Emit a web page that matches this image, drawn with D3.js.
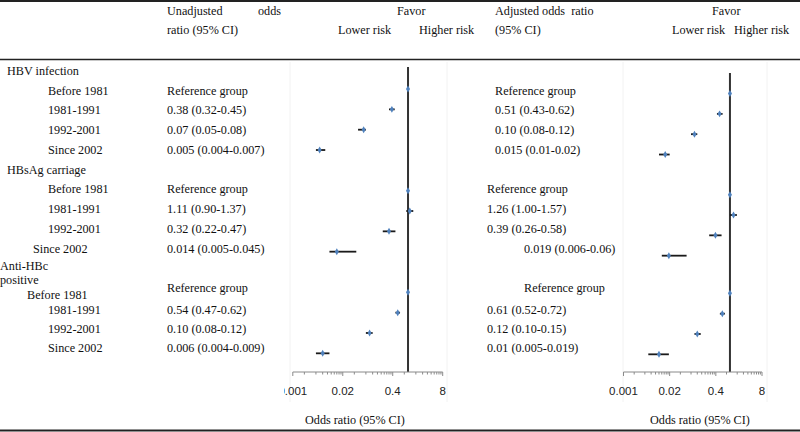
<!DOCTYPE html>
<html><head><meta charset="utf-8">
<script src="https://cdn.jsdelivr.net/npm/d3@7"></script>
<style>
body{margin:0;background:#fff}
svg{display:block}
text{font-family:"Liberation Serif","Times New Roman",serif;font-size:12.2px;fill:#111}
text.tk{font-family:"Liberation Sans",Arial,sans-serif;font-size:11.5px;fill:#222}
</style>
</head><body><svg id="c" width="800" height="432"></svg>
<script>
// ---------------- data ----------------
const groups = ["HBV infection", "HBsAg carriage", "Anti-HBc positive"];
const periods = ["Before 1981", "1981-1991", "1992-2001", "Since 2002"];
const unadjOR = [1, 0.38, 0.07, 0.005, 1, 1.11, 0.32, 0.014, 1, 0.54, 0.10, 0.006];
const unadjLo = [null, 0.32, 0.05, 0.004, null, 0.90, 0.22, 0.009, null, 0.47, 0.08, 0.004];
const unadjHi = [null, 0.45, 0.08, 0.007, null, 1.37, 0.47, 0.045, null, 0.62, 0.12, 0.009];
const unadjText = ["Reference group", "0.38 (0.32-0.45)", "0.07 (0.05-0.08)", "0.005 (0.004-0.007)",
  "Reference group", "1.11 (0.90-1.37)", "0.32 (0.22-0.47)", "0.014 (0.005-0.045)",
  "Reference group", "0.54 (0.47-0.62)", "0.10 (0.08-0.12)", "0.006 (0.004-0.009)"];
const adjOR = [1, 0.51, 0.10, 0.015, 1, 1.26, 0.39, 0.019, 1, 0.61, 0.12, 0.01];
const adjLo = [null, 0.43, 0.08, 0.01, null, 1.00, 0.26, 0.012, null, 0.52, 0.10, 0.005];
const adjHi = [null, 0.62, 0.12, 0.02, null, 1.57, 0.58, 0.06, null, 0.72, 0.15, 0.019];
const adjText = ["Reference group", "0.51 (0.43-0.62)", "0.10 (0.08-0.12)", "0.015 (0.01-0.02)",
  "Reference group", "1.26 (1.00-1.57)", "0.39 (0.26-0.58)", "0.019 (0.006-0.06)",
  "Reference group", "0.61 (0.52-0.72)", "0.12 (0.10-0.15)", "0.01 (0.005-0.019)"];
const axisTicks = [0.001, 0.02, 0.4, 8];
const axisTickLabels = ["0.001", "0.02", "0.4", "8"];
const axisTitle = "Odds ratio (95% CI)";

// ---------------- layout ----------------
const W = 800, H = 432;
const svg = d3.select("#c");
const slotBase = [1, 6, 11];
const markY = d3.scaleLinear().domain([0, 14]).range([68.7, 68.7 + 20.33 * 14]);
const textY = d3.scaleLinear().domain([0, 14]).range([70.7, 70.7 + 19.75 * 14]);
const rightShift = [4.5, 4, 1];
const periodX = [[48, 48, 48, 48], [48, 48, 48, 33], [27, 48, 48, 48]];
const periodSlotAdj = [[0, 0, 0, 0], [0, 0, 0, 0], [0.35, 0.12, 0.08, 0.05]];
const valueSlotAdj = [[0, 0, 0, 0], [0, 0, 0, 0], [0, 0.12, 0.08, 0.05]];
const rightTextX = [[495, 495, 495, 495], [487, 487, 487, 524], [524, 487, 487, 487]];
const axisY = 372;

const xL = d3.scaleLog().domain([0.001, 8]).range([292.8, 442.7]);
const xR = d3.scaleLog().domain([0.001, 8]).range([623.5, 762]);

// horizontal rules
[[1, 2], [59.5, 1.6], [430.5, 2]].forEach(([y, w]) =>
  svg.append("line").attr("x1", 0).attr("x2", W).attr("y1", y).attr("y2", y)
    .attr("stroke", "#222").attr("stroke-width", w));

// faint panel borders
[[290, 447], [623, 767]].forEach(xs => xs.forEach(x =>
  svg.append("line").attr("x1", x).attr("x2", x).attr("y1", 62).attr("y2", 402)
    .attr("stroke", "#f2f2f2").attr("stroke-width", 1)));

// headers
function txt(x, y, s, anchor) {
  return svg.append("text").attr("x", x).attr("y", y).attr("text-anchor", anchor || "start")
    .style("white-space", "pre").text(s);
}
txt(167, 15, "Unadjusted"); txt(258, 15, "odds"); txt(167, 34, "ratio (95% CI)");
txt(397, 15, "Favor"); txt(338, 34, "Lower risk"); txt(419, 34, "Higher risk");
txt(495, 15, "Adjusted odds  ratio"); txt(495, 34, "(95% CI)");
txt(712, 15, "Favor"); txt(672, 34, "Lower risk"); txt(734, 34, "Higher risk");

// group labels
txt(7, textY(0), groups[0]).attr("dy", "0.35em");
txt(7, textY(5), groups[1]).attr("dy", "0.35em");
txt(0, textY(9.85), "Anti-HBc").attr("dy", "0.35em");
txt(0, textY(10.6), "positive").attr("dy", "0.35em");

// rows
const rows = [];
groups.forEach((g, gi) => periods.forEach((p, pi) => {
  const i = gi * 4 + pi;
  rows.push({gi, pi, i, slot: slotBase[gi] + pi});
}));

rows.forEach(r => {
  txt(periodX[r.gi][r.pi], textY(r.slot + periodSlotAdj[r.gi][r.pi]), periods[r.pi]).attr("dy", "0.35em");
  const ty = textY(r.slot + valueSlotAdj[r.gi][r.pi]);
  txt(167, ty, unadjText[r.i]).attr("dy", "0.35em");
  txt(rightTextX[r.gi][r.pi], ty, adjText[r.i]).attr("dy", "0.35em");
});

// panels
function panel(x, ORs, Los, His, shift, nullTop, clipX) {
  svg.append("line").attr("x1", x(1)).attr("x2", x(1)).attr("y1", nullTop).attr("y2", axisY)
    .attr("stroke", "#333").attr("stroke-width", 2);
  const g = svg.append("g");
  g.append("line").attr("x1", x.range()[0]).attr("x2", x.range()[1]).attr("y1", axisY).attr("y2", axisY)
    .attr("stroke", "#8a8a8a").attr("stroke-width", 1);
  const minor = [];
  axisTicks.slice(0, -1).forEach(a => { for (let k = 2; k <= 18; k += 2) minor.push(a * k); });
  g.selectAll("line.mn").data(minor).join("line").attr("class", "mn")
    .attr("x1", d => x(d)).attr("x2", d => x(d)).attr("y1", axisY).attr("y2", axisY + 2.5)
    .attr("stroke", "#8a8a8a").attr("stroke-width", 1);
  g.selectAll("line.mj").data(axisTicks).join("line").attr("class", "mj")
    .attr("x1", d => x(d)).attr("x2", d => x(d)).attr("y1", axisY).attr("y2", axisY + 4)
    .attr("stroke", "#8a8a8a").attr("stroke-width", 1);
  const id = "clip" + Math.round(clipX);
  svg.append("clipPath").attr("id", id).append("rect").attr("x", clipX).attr("y", 376).attr("width", 200).attr("height", 30);
  g.append("g").attr("clip-path", `url(#${id})`).selectAll("text").data(axisTicks).join("text")
    .attr("class", "tk").attr("x", d => x(d)).attr("y", 395).attr("text-anchor", "middle")
    .text((d, i) => axisTickLabels[i]);
  rows.forEach(r => {
    const y = markY(r.slot) + shift[r.gi];
    if (Los[r.i] != null) {
      svg.append("line").attr("x1", x(Los[r.i])).attr("x2", x(His[r.i])).attr("y1", y).attr("y2", y)
        .attr("stroke", "#1a1a1a").attr("stroke-width", 1.8);
    }
    svg.append("path").attr("d", d3.symbol(d3.symbolDiamond, 14)())
      .attr("transform", `translate(${x(ORs[r.i])},${y})`).attr("fill", "#4f81bd");
  });
}
panel(xL, unadjOR, unadjLo, unadjHi, [0, 0, 0], 67, 284);
panel(xR, adjOR, adjLo, adjHi, rightShift, 73, 590);

txt(305, 424, axisTitle);
txt(650, 424, axisTitle);
</script>
</body></html>
